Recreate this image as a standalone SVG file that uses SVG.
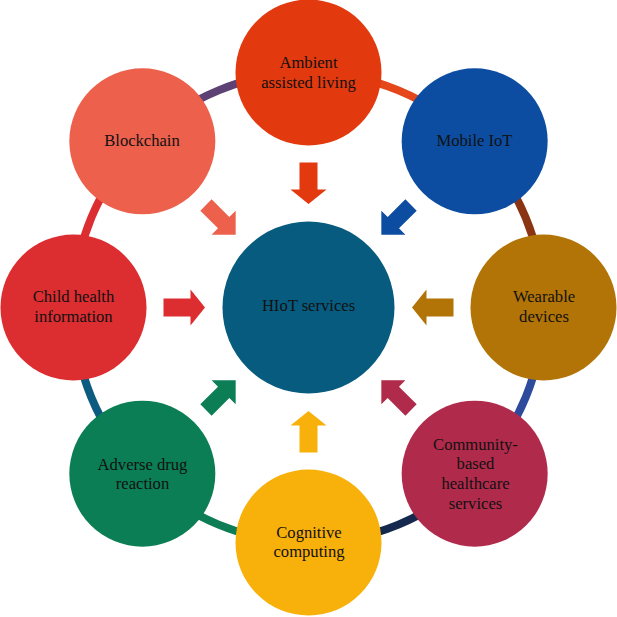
<svg xmlns="http://www.w3.org/2000/svg" width="617" height="617" viewBox="0 0 617 617">
  <style>
    .lbl { font-family: "Liberation Serif", "Times New Roman", serif; font-size: 16.6px; fill: #111; text-anchor: middle; }
    .ring { fill: none; stroke-width: 8; }
  </style>
  <defs>
    <path id="arrowStraight" d="M-145,-9 H-118 V-18 L-103.5,0 L-118,18 V9 H-145 Z"/>
    <path id="arrowDiag" d="M-145,-8 H-120 V-17 L-103,0 L-120,17 V8 H-145 Z"/>
  </defs>
  <rect width="617" height="617" fill="#ffffff"/>

  <g id="connectors">
    <g id="ring">
      <path class="ring" stroke="#2E4A9C" d="M543.5,307.5 A235,235 0 0 1 474.67,473.67"/>
      <path class="ring" stroke="#14294D" d="M474.67,473.67 A235,235 0 0 1 308.5,542.5"/>
      <path class="ring" stroke="#0C7D55" d="M308.5,542.5 A235,235 0 0 1 142.33,473.67"/>
      <path class="ring" stroke="#0B5C80" d="M142.33,473.67 A235,235 0 0 1 73.5,307.5"/>
      <path class="ring" stroke="#DC2E31" d="M73.5,307.5 A235,235 0 0 1 142.33,141.33"/>
      <path class="ring" stroke="#5E4275" d="M142.33,141.33 A235,235 0 0 1 308.5,72.5"/>
      <path class="ring" stroke="#E5461A" d="M308.5,72.5 A235,235 0 0 1 474.67,141.33"/>
      <path class="ring" stroke="#8B3413" d="M474.67,141.33 A235,235 0 0 1 543.5,307.5"/>
    </g>
    <g id="arrows" transform="translate(308.5,307.5)">
      <use href="#arrowStraight" fill="#E3390F" transform="rotate(90)"/>
      <use href="#arrowDiag" fill="#0C4DA2" transform="rotate(135)"/>
      <use href="#arrowStraight" fill="#B27406" transform="rotate(180)"/>
      <use href="#arrowDiag" fill="#B02A4B" transform="rotate(225)"/>
      <use href="#arrowStraight" fill="#F8B00A" transform="rotate(270)"/>
      <use href="#arrowDiag" fill="#0B7E55" transform="rotate(315)"/>
      <use href="#arrowStraight" fill="#DC2D31" transform="rotate(0)"/>
      <use href="#arrowDiag" fill="#EC604C" transform="rotate(45)"/>
    </g>
  </g>

  <g id="hiot">
    <circle cx="308.5" cy="307.5" r="86" fill="#075B7E"/>
    <text class="lbl" x="308.5" y="311">HIoT services</text>
  </g>
  <g id="ambient">
    <circle cx="308.5" cy="72.5" r="73" fill="#E3390F"/>
    <text class="lbl" x="308.5" y="67.5">Ambient</text>
    <text class="lbl" x="308.5" y="87.5">assisted living</text>
  </g>
  <g id="mobile">
    <circle cx="474.67" cy="141.33" r="73" fill="#0C4DA2"/>
    <text class="lbl" x="474.5" y="145.5">Mobile IoT</text>
  </g>
  <g id="wearable">
    <circle cx="543.5" cy="307.5" r="73" fill="#B27406"/>
    <text class="lbl" x="544" y="302">Wearable</text>
    <text class="lbl" x="544" y="322">devices</text>
  </g>
  <g id="community">
    <circle cx="474.67" cy="473.67" r="73" fill="#B02A4B"/>
    <text class="lbl" x="475.5" y="449.5">Community-</text>
    <text class="lbl" x="475.5" y="469">based</text>
    <text class="lbl" x="475.5" y="489">healthcare</text>
    <text class="lbl" x="475.5" y="509">services</text>
  </g>
  <g id="cognitive">
    <circle cx="308.5" cy="542.5" r="73" fill="#F8B00A"/>
    <text class="lbl" x="309" y="537.5">Cognitive</text>
    <text class="lbl" x="309" y="557">computing</text>
  </g>
  <g id="adverse">
    <circle cx="142.33" cy="473.67" r="73" fill="#0B7E55"/>
    <text class="lbl" x="142.5" y="469.5">Adverse drug</text>
    <text class="lbl" x="142.5" y="489">reaction</text>
  </g>
  <g id="child">
    <circle cx="73.5" cy="307.5" r="73" fill="#DC2D31"/>
    <text class="lbl" x="73.5" y="302">Child health</text>
    <text class="lbl" x="73.5" y="322">information</text>
  </g>
  <g id="blockchain">
    <circle cx="142.33" cy="141.33" r="73" fill="#EC604C"/>
    <text class="lbl" x="142" y="145.5">Blockchain</text>
  </g>
</svg>
